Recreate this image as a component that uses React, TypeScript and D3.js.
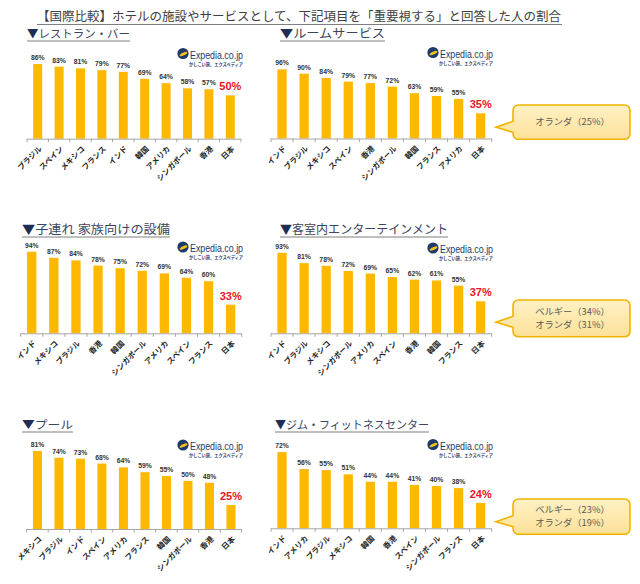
import React from "react";
import * as d3 from "d3";

const TITLE = "【国際比較】ホテルの施設やサービスとして、下記項目を「重要視する」と回答した人の割合";

const panelTitles = [
  "▼レストラン・バー",
  "▼ルームサービス",
  "▼子連れ 家族向けの設備",
  "▼客室内エンターテインメント",
  "▼プール",
  "▼ジム・フィットネスセンター",
];

const restaurantCats = ["ブラジル", "スペイン", "メキシコ", "フランス", "インド", "韓国", "アメリカ", "シンガポール", "香港", "日本"];
const restaurantValues = [86, 83, 81, 79, 77, 69, 64, 58, 57, 50];

const roomCats = ["インド", "ブラジル", "メキシコ", "スペイン", "香港", "シンガポール", "韓国", "フランス", "アメリカ", "日本"];
const roomValues = [96, 90, 84, 79, 77, 72, 63, 59, 55, 35];

const familyCats = ["インド", "メキシコ", "ブラジル", "香港", "韓国", "シンガポール", "アメリカ", "スペイン", "フランス", "日本"];
const familyValues = [94, 87, 84, 78, 75, 72, 69, 64, 60, 33];

const entCats = ["インド", "ブラジル", "メキシコ", "シンガポール", "アメリカ", "スペイン", "香港", "韓国", "フランス", "日本"];
const entValues = [93, 81, 78, 72, 69, 65, 62, 61, 55, 37];

const poolCats = ["メキシコ", "ブラジル", "インド", "スペイン", "アメリカ", "フランス", "韓国", "シンガポール", "香港", "日本"];
const poolValues = [81, 74, 73, 68, 64, 59, 55, 50, 48, 25];

const gymCats = ["インド", "アメリカ", "ブラジル", "メキシコ", "韓国", "香港", "スペイン", "シンガポール", "フランス", "日本"];
const gymValues = [72, 56, 55, 51, 44, 44, 41, 40, 38, 24];

const roomCallout = ["オランダ（25%）"];
const entCallout = ["ベルギー（34%）", "オランダ（31%）"];
const gymCallout = ["ベルギー（23%）", "オランダ（19%）"];

const LOGO_TEXT = "Expedia.co.jp";
const LOGO_SUB = "かしこい旅、エクスペディア";

// layout (positions only)
const LAYOUT = [
  { x0: 27, x1: 241, base: 138.7, h100: 86.8, hx: 27, hw: 103, hy: 34, hfs: 11.5, lx: 177, ly: 55 },
  { x0: 271, x1: 491.7, base: 138.5, h100: 72, hx: 280, hw: 105, hy: 34, hfs: 12, lx: 427, ly: 54, co: { y0: 105, y1: 139.3, tip: 127.3 } },
  { x0: 20.7, x1: 241.7, base: 333.3, h100: 86.8, hx: 22, hw: 148, hy: 230, hfs: 12.5, lx: 177, ly: 248.5 },
  { x0: 271, x1: 491.7, base: 333.3, h100: 86.6, hx: 280, hw: 168, hy: 230, hfs: 12.5, lx: 427, ly: 249.5, co: { y0: 300, y1: 336.7, tip: 322.3 } },
  { x0: 26.7, x1: 241.7, base: 529, h100: 96.3, hx: 22, hw: 51, hy: 425, hfs: 11, lx: 177, ly: 446.5 },
  { x0: 271, x1: 491.7, base: 528.3, h100: 105.8, hx: 275, hw: 154, hy: 425, hfs: 11.5, lx: 427, ly: 446, co: { y0: 499, y1: 534.3, tip: 521.7 } },
];

const DATA = [
  { cats: restaurantCats, values: restaurantValues, callout: null as string[] | null },
  { cats: roomCats, values: roomValues, callout: roomCallout },
  { cats: familyCats, values: familyValues, callout: null },
  { cats: entCats, values: entValues, callout: entCallout },
  { cats: poolCats, values: poolValues, callout: null },
  { cats: gymCats, values: gymValues, callout: gymCallout },
];

const JP = "'Noto Sans CJK JP', 'Noto Sans', sans-serif";
const LAT = "'Liberation Sans', Arial, sans-serif";
const BAR = "#FFB800";

function Logo({ x, y }: { x: number; y: number }) {
  return (
    <g>
      <circle cx={x + 6} cy={y - 1.5} r={5.6} fill="#1d3a6b" />
      <ellipse cx={x + 6.5} cy={y - 1} rx={4.2} ry={1.4} fill="#f2c21b" transform={`rotate(-25 ${x + 6.5} ${y - 1})`} />
      <text x={x + 13} y={y + 3.5} fontFamily={LAT} fontSize={10.5} fill="#1d3a6b" textLength={53} lengthAdjust="spacingAndGlyphs">
        {LOGO_TEXT}
      </text>
      <text x={x + 12} y={y + 10.8} fontFamily={JP} fontSize={4.6} fontWeight={700} fill="#1d3a6b" textLength={54} lengthAdjust="spacingAndGlyphs">
        {LOGO_SUB}
      </text>
    </g>
  );
}

function Callout({ lines, y0, y1, tip }: { lines: string[]; y0: number; y1: number; tip: number }) {
  const x0 = 513, x1 = 630, r = 6, tipX = 496;
  const jt = tip - 6, jb = tip + 5;
  const p = d3.path();
  p.moveTo(x0 + r, y0);
  p.lineTo(x1 - r, y0);
  p.quadraticCurveTo(x1, y0, x1, y0 + r);
  p.lineTo(x1, y1 - r);
  p.quadraticCurveTo(x1, y1, x1 - r, y1);
  p.lineTo(x0 + r, y1);
  p.quadraticCurveTo(x0, y1, x0, y1 - r);
  p.lineTo(x0, jb);
  p.lineTo(tipX, tip);
  p.lineTo(x0, jt);
  p.lineTo(x0, y0 + r);
  p.quadraticCurveTo(x0, y0, x0 + r, y0);
  p.closePath();
  const cy = (y0 + y1) / 2;
  const lh = 13.2;
  return (
    <g>
      <path d={p.toString()} fill="url(#coGrad)" stroke="#F0B400" strokeWidth={1.6} />
      {lines.map((t, i) => (
        <text key={i} x={(x0 + x1) / 2 + 1} y={cy + (i - (lines.length - 1) / 2) * lh} dy="0.36em" textAnchor="middle" fontFamily={JP} fontSize={9} fill="#595959" textLength={t.length * 9.6 - 12} lengthAdjust="spacingAndGlyphs">
          {t}
        </text>
      ))}
    </g>
  );
}

function Panel({ idx }: { idx: number }) {
  const L = LAYOUT[idx];
  const D = DATA[idx];
  const x = d3.scaleBand<string>().domain(D.cats).range([L.x0, L.x1]).paddingInner(0.58).paddingOuter(0.29);
  const y = d3.scaleLinear().domain([0, 100]).range([L.base, L.base - L.h100]);
  const step = x.step();
  const n = D.cats.length;
  return (
    <g>
      {/* heading */}
      <text x={L.hx} y={L.hy + 4.3} fontFamily={JP} fontSize={L.hfs} fill="#3a4660" textLength={L.hw} lengthAdjust="spacingAndGlyphs">
        <tspan fill="#1f2d55">▼</tspan>
        {panelTitles[idx].slice(1)}
      </text>
      <line x1={L.hx} x2={L.hx + L.hw} y1={L.hy + 7} y2={L.hy + 7} stroke="#7f7f7f" strokeWidth={1} />
      <Logo x={L.lx} y={L.ly} />
      {/* bars */}
      {D.cats.map((c, i) => {
        const v = D.values[i];
        const last = i === n - 1;
        const cx = (x(c) as number) + x.bandwidth() / 2;
        return (
          <g key={c}>
            <rect x={x(c)} y={y(v)} width={x.bandwidth()} height={L.base - y(v)} fill={BAR} />
            {last ? (
              <text x={cx} y={y(v) - 5} textAnchor="middle" fontFamily={LAT} fontSize={11} fontWeight={700} fill="#E8141E">
                {v}%
              </text>
            ) : (
              <text x={cx} y={y(v) - 4} textAnchor="middle" fontFamily={LAT} fontSize={6.8} fontWeight={700} fill="#333">
                {v}%
              </text>
            )}
            <text
              transform={`translate(${cx + 3},${L.base + 9}) rotate(-45)`}
              textAnchor="end"
              dy="0.3em"
              fontFamily={JP}
              fontSize={7.6}
              fontWeight={700}
              fill="#262626"
            >
              {c}
            </text>
          </g>
        );
      })}
      {/* axis */}
      <line x1={L.x0} x2={L.x1} y1={L.base + 0.5} y2={L.base + 0.5} stroke="#a6a6a6" strokeWidth={1} />
      {d3.range(n + 1).map((i) => (
        <line key={i} x1={L.x0 + i * step} x2={L.x0 + i * step} y1={L.base} y2={L.base + 3.5} stroke="#a6a6a6" strokeWidth={1} />
      ))}
      {D.callout && L.co && <Callout lines={D.callout} y0={L.co.y0} y1={L.co.y1} tip={L.co.tip} />}
    </g>
  );
}

export default function App() {
  return (
    <svg width={640} height={584} style={{ position: "absolute", left: 0, top: 0, background: "#fff" }}>
      <defs>
        <linearGradient id="coGrad" x1="0" y1="0" x2="0" y2="1">
          <stop offset="0" stopColor="#FFF1C4" />
          <stop offset="1" stopColor="#FDE199" />
        </linearGradient>
      </defs>
      <rect x={0} y={0} width={640} height={584} fill="#fff" />
      <text x={37} y={20.5} fontFamily={JP} fontSize={12.5} fill="#404040" textLength={524} lengthAdjust="spacingAndGlyphs">
        {TITLE}
      </text>
      <line x1={37} x2={562} y1={24.5} y2={24.5} stroke="#7f7f7f" strokeWidth={1} />
      {LAYOUT.map((_, i) => (
        <Panel key={i} idx={i} />
      ))}
    </svg>
  );
}
